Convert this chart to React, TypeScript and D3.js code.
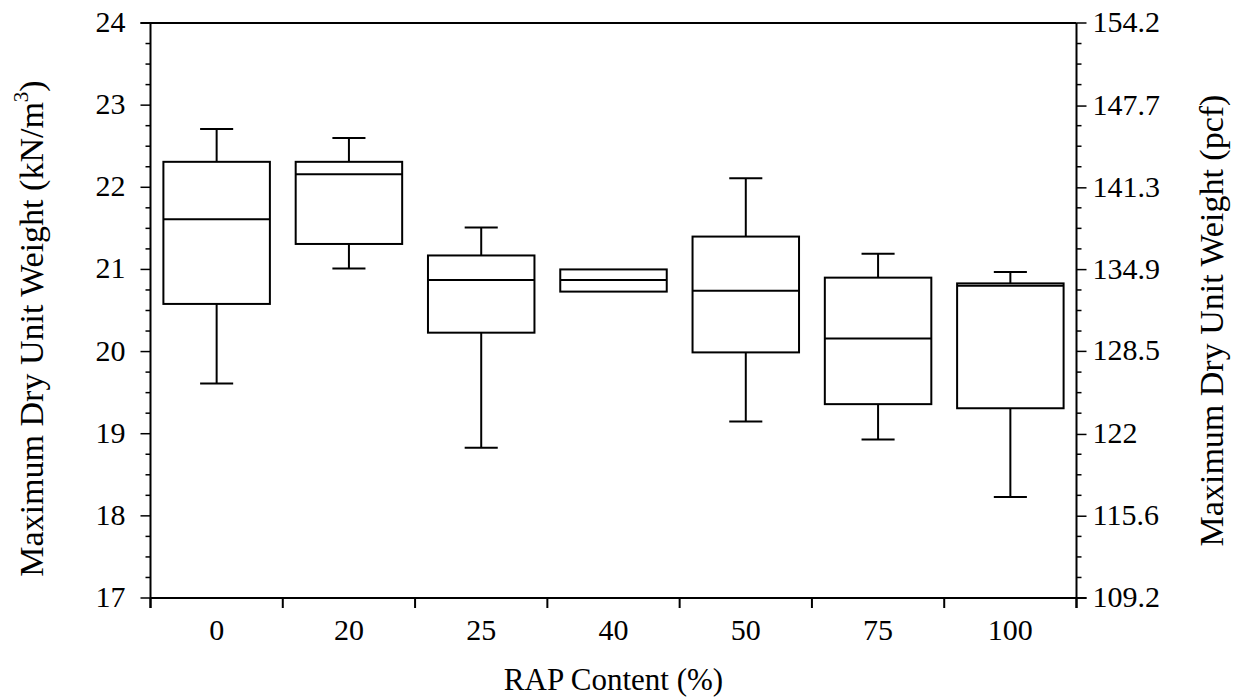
import React from "react";
import * as d3 from "d3";

const categories = ["0", "20", "25", "40", "50", "75", "100"];
const whiskerHigh = [22.71, 22.6, 21.51, 21.0, 22.11, 21.19, 20.97];
const q3 = [22.31, 22.31, 21.17, 21.0, 21.4, 20.9, 20.83];
const median = [21.61, 22.16, 20.87, 20.87, 20.74, 20.16, 20.8];
const q1 = [20.58, 21.31, 20.23, 20.73, 19.99, 19.36, 19.31];
const whiskerLow = [19.61, 21.01, 18.83, 20.73, 19.15, 18.93, 18.23];

const leftTicks = [17, 18, 19, 20, 21, 22, 23, 24];
const rightTicks = [109.2, 115.6, 122, 128.5, 134.9, 141.3, 147.7, 154.2];
const rightTickLabels = ["109.2", "115.6", "122", "128.5", "134.9", "141.3", "147.7", "154.2"];

const W = 1237;
const H = 698;
const L = 150.5;
const R = 1076.5;
const T = 23;
const B = 598;
const FONT = "'Liberation Serif', 'Times New Roman', serif";

export default function App() {
  const x = d3.scaleBand<string>().domain(categories).range([L, R]).padding(0);
  const y = d3.scaleLinear().domain([17, 24]).range([B, T]);
  const yR = d3.scaleLinear().domain([109.2, 154.2]).range([B, T]);
  const bw = x.bandwidth();
  const boxW = bw * 0.805;
  const capW = bw * 0.25;

  const leftMinor = d3.range(17, 24.001, 0.25).filter((v) => Math.abs(v - Math.round(v)) > 0.01);
  const rStep = (154.2 - 109.2) / 28;
  const rightMinor = d3.range(0, 29).filter((i) => i % 4 !== 0).map((i) => 109.2 + i * rStep);
  const boundaries = categories.map((c) => x(c) as number).concat([R]);

  const sw = 2;
  return (
    <svg
      width={W}
      height={H}
      style={{ position: "absolute", left: 0, top: 0, background: "#fff" }}
      fontFamily={FONT}
    >
      <rect x={0} y={0} width={W} height={H} fill="#fff" />
      {categories.map((c, i) => {
        const cx = (x(c) as number) + bw / 2;
        const x0 = cx - boxW / 2;
        return (
          <g key={c} stroke="#000" strokeWidth={sw} fill="none">
            {whiskerHigh[i] > q3[i] + 0.001 && (
              <>
                <line x1={cx} x2={cx} y1={y(q3[i])} y2={y(whiskerHigh[i])} />
                <line x1={cx - capW / 2} x2={cx + capW / 2} y1={y(whiskerHigh[i])} y2={y(whiskerHigh[i])} />
              </>
            )}
            {whiskerLow[i] < q1[i] - 0.001 && (
              <>
                <line x1={cx} x2={cx} y1={y(q1[i])} y2={y(whiskerLow[i])} />
                <line x1={cx - capW / 2} x2={cx + capW / 2} y1={y(whiskerLow[i])} y2={y(whiskerLow[i])} />
              </>
            )}
            <rect x={x0} y={y(q3[i])} width={boxW} height={y(q1[i]) - y(q3[i])} fill="#fff" />
            <line x1={x0} x2={x0 + boxW} y1={y(median[i])} y2={y(median[i])} />
          </g>
        );
      })}
      <g stroke="#000" strokeWidth={2} fill="none">
        <line x1={L - 10} x2={R} y1={T} y2={T} />
        <line x1={L} x2={R + 10} y1={B} y2={B} />
        <line x1={L} x2={L} y1={T} y2={B + 10} />
        <line x1={R} x2={R} y1={T} y2={B + 10} />
      </g>
      <g stroke="#000" strokeWidth={1.5}>
        {leftTicks.map((v) => (
          <line key={"lt" + v} x1={L - 10} x2={L} y1={y(v)} y2={y(v)} />
        ))}
        {leftMinor.map((v) => (
          <line key={"lm" + v} x1={L - 5} x2={L} y1={y(v)} y2={y(v)} />
        ))}
        {rightTicks.map((v) => (
          <line key={"rt" + v} x1={R} x2={R + 10} y1={yR(v)} y2={yR(v)} />
        ))}
        {rightMinor.map((v, i) => (
          <line key={"rm" + i} x1={R} x2={R + 5} y1={yR(v)} y2={yR(v)} />
        ))}
        {boundaries.map((bx, i) => (
          <line key={"xb" + i} x1={bx} x2={bx} y1={B} y2={B + 10} strokeWidth={2} />
        ))}
      </g>
      <g fontSize={30} fill="#000">
        {leftTicks.map((v) => (
          <text key={"ll" + v} x={L - 25} y={y(v) + 9} textAnchor="end">
            {v}
          </text>
        ))}
        {rightTicks.map((v, i) => (
          <text key={"rl" + v} x={R + 16} y={yR(v) + 9} textAnchor="start">
            {rightTickLabels[i]}
          </text>
        ))}
        {categories.map((c) => (
          <text key={"xl" + c} x={(x(c) as number) + bw / 2} y={640} textAnchor="middle">
            {c}
          </text>
        ))}
      </g>
      <text x={(L + R) / 2} y={690} textAnchor="middle" fontSize={31} fill="#000">
        RAP Content (%)
      </text>
      <text
        transform={`translate(43, ${(T + B) / 2 + 18}) rotate(-90)`}
        textAnchor="middle"
        fontSize={34}
        fill="#000"
      >
        Maximum Dry Unit Weight (kN/m
        <tspan fontSize={21} dy={-15}>3</tspan>
        <tspan dy={15}>)</tspan>
      </text>
      <text
        transform={`translate(1223, ${(T + B) / 2 + 10}) rotate(-90)`}
        textAnchor="middle"
        fontSize={34}
        fill="#000"
      >
        Maximum Dry Unit Weight (pcf)
      </text>
    </svg>
  );
}
